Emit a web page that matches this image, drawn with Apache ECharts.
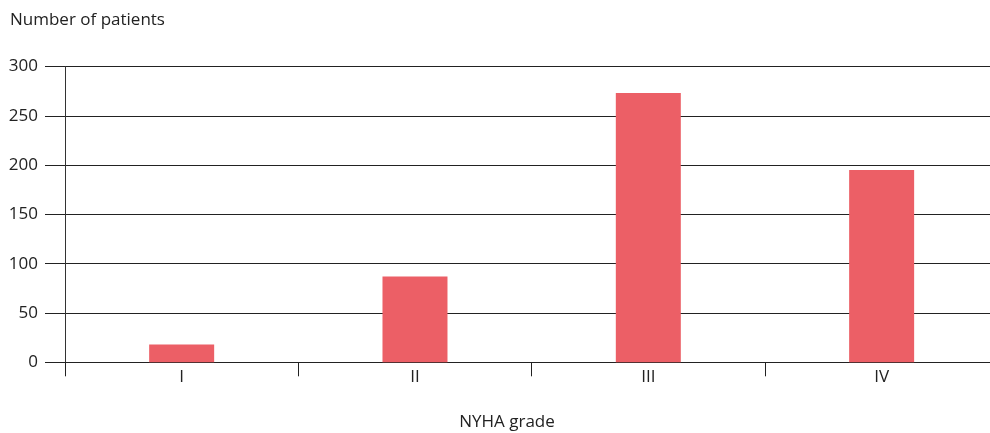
<!DOCTYPE html>
<html>
<head>
<meta charset="utf-8">
<style>
html,body{margin:0;padding:0;background:#fff;}
#chart{width:990px;height:433px;}
</style>
<script src="https://cdn.jsdelivr.net/npm/echarts@6/dist/echarts.min.js"></script>
</head>
<body>
<div id="chart"></div>
<script>
const categories = ['I', 'II', 'III', 'IV'];
const patients = [18, 87, 273, 195];
const yTicks = [0, 50, 100, 150, 200, 250, 300];

const FONT = 'Open Sans';
const TXT = '#222';
const chart = echarts.init(document.getElementById('chart'), null, {renderer: 'canvas'});
chart.setOption({
  animation: false,
  backgroundColor: '#ffffff',
  title: [
    {text: 'Number of patients', left: 5, top: 7,
     textStyle: {fontFamily: FONT, fontSize: 17, fontWeight: 'normal', color: TXT}},
    {text: 'NYHA grade', left: 502, top: 409, textAlign: 'center',
     textStyle: {fontFamily: FONT, fontSize: 17, fontWeight: 'normal', color: TXT}}
  ],
  grid: {left: 65, width: 933.3, top: 66.5, height: 295.8, containLabel: false, outerBoundsMode: 'none'},
  xAxis: {
    type: 'category',
    data: categories,
    axisLine: {show: true, lineStyle: {color: '#222', width: 1}},
    axisTick: {show: true, length: 14, alignWithLabel: false, lineStyle: {color: '#222', width: 1}},
    axisLabel: {fontFamily: FONT, fontSize: 17, color: TXT, margin: 6}
  },
  yAxis: {
    type: 'value',
    min: yTicks[0],
    max: yTicks[yTicks.length - 1],
    interval: 50,
    axisLine: {show: true, lineStyle: {color: '#333', width: 1}},
    axisTick: {show: true, length: 20, lineStyle: {color: '#222', width: 1}},
    axisLabel: {fontFamily: FONT, fontSize: 17, color: TXT, margin: 27},
    splitLine: {show: true, lineStyle: {color: '#222', width: 1}}
  },
  series: [{
    type: 'bar',
    data: patients,
    barWidth: 65,
    itemStyle: {color: '#ec5f66'}
  }]
});
</script>
</body>
</html>
